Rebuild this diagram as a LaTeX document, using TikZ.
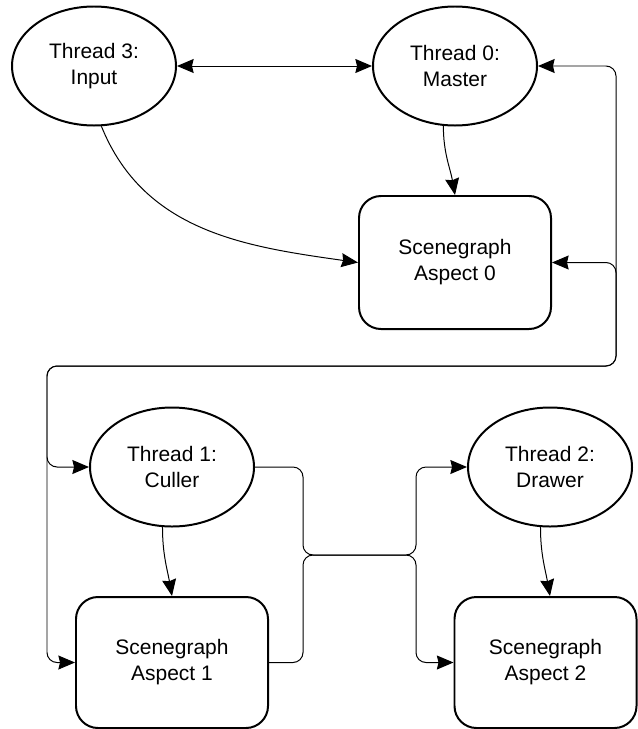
\documentclass[tikz,border=0pt]{standalone}
\usepackage{fontspec}
\setmainfont{Liberation Sans}
\usetikzlibrary{shapes.geometric,arrows.meta}

\begin{document}
\begin{tikzpicture}[x=0.03cm, y=-0.03cm,
    >={Stealth[length=0.5cm, width=0.42cm, inset=0.05cm]},
    thread/.style={ellipse, draw, line width=1.7pt, minimum width=4.92cm,
        minimum height=3.57cm, align=center, font=\fontsize{17.9}{22.2}\selectfont},
    aspect/.style={rectangle, draw, rounded corners=0.66cm, line width=1.7pt,
        minimum width=5.76cm, minimum height=3.99cm, align=center,
        font=\fontsize{17.9}{22.2}\selectfont},
    link/.style={line width=0.85pt, ->},
    bus/.style={line width=0.85pt, rounded corners=0.3cm}]
    \useasboundingbox (0,0) rectangle (637,729);

    % Threads
    \node[thread] (input)  at (94,66)  {Thread 3:\\Input};
    \node[thread] (master) at (455,66) {Thread 0:\\Master};
    \node[thread] (culler) at (172,467) {Thread 1:\\Culler};
    \node[thread] (drawer) at (550,467) {Thread 2:\\Drawer};

    % Scenegraph aspects
    \node[aspect] (aspect0) at (455,262.5) {Scenegraph\\Aspect 0};
    \node[aspect, minimum height=3.93cm] (aspect1) at (172,662.5) {Scenegraph\\Aspect 1};
    \node[aspect, minimum height=3.93cm, minimum width=5.46cm] (aspect2) at (545.5,662.5) {Scenegraph\\Aspect 2};

    % Bend points of the shared routes
    \coordinate (busR) at (616,366);
    \coordinate (busL) at (47,366);
    \coordinate (midL) at (303,555);
    \coordinate (midR) at (416,555);

    % Top part
    \draw[link, <->] (input) -- (master);
    \draw[link] (master.-101) to[out=-90, in=100] (aspect0.north);
    \draw[link] (input.-83) to[out=-68, in=172] (aspect0.west);

    % Long routes round the right and left sides
    \draw[bus, <->] (master.east) -| (busR) -- (busL) |- (culler.west);
    \draw[bus, <->] (aspect0.east) -| (busR) -- (busL) |- (aspect1.west);

    % Bottom part
    \draw[link] (culler.-99) to[out=-90, in=100] (aspect1.north);
    \draw[link] (drawer.-99) to[out=-90, in=100] (drawer.south |- aspect2.north);
    \draw[bus, ->] (culler.east) -| (midL) -- (midR) |- (drawer.west);
    \draw[bus, ->] (aspect1.east) -| (midL) -- (midR) |- (aspect2.west);
\end{tikzpicture}
\end{document}
